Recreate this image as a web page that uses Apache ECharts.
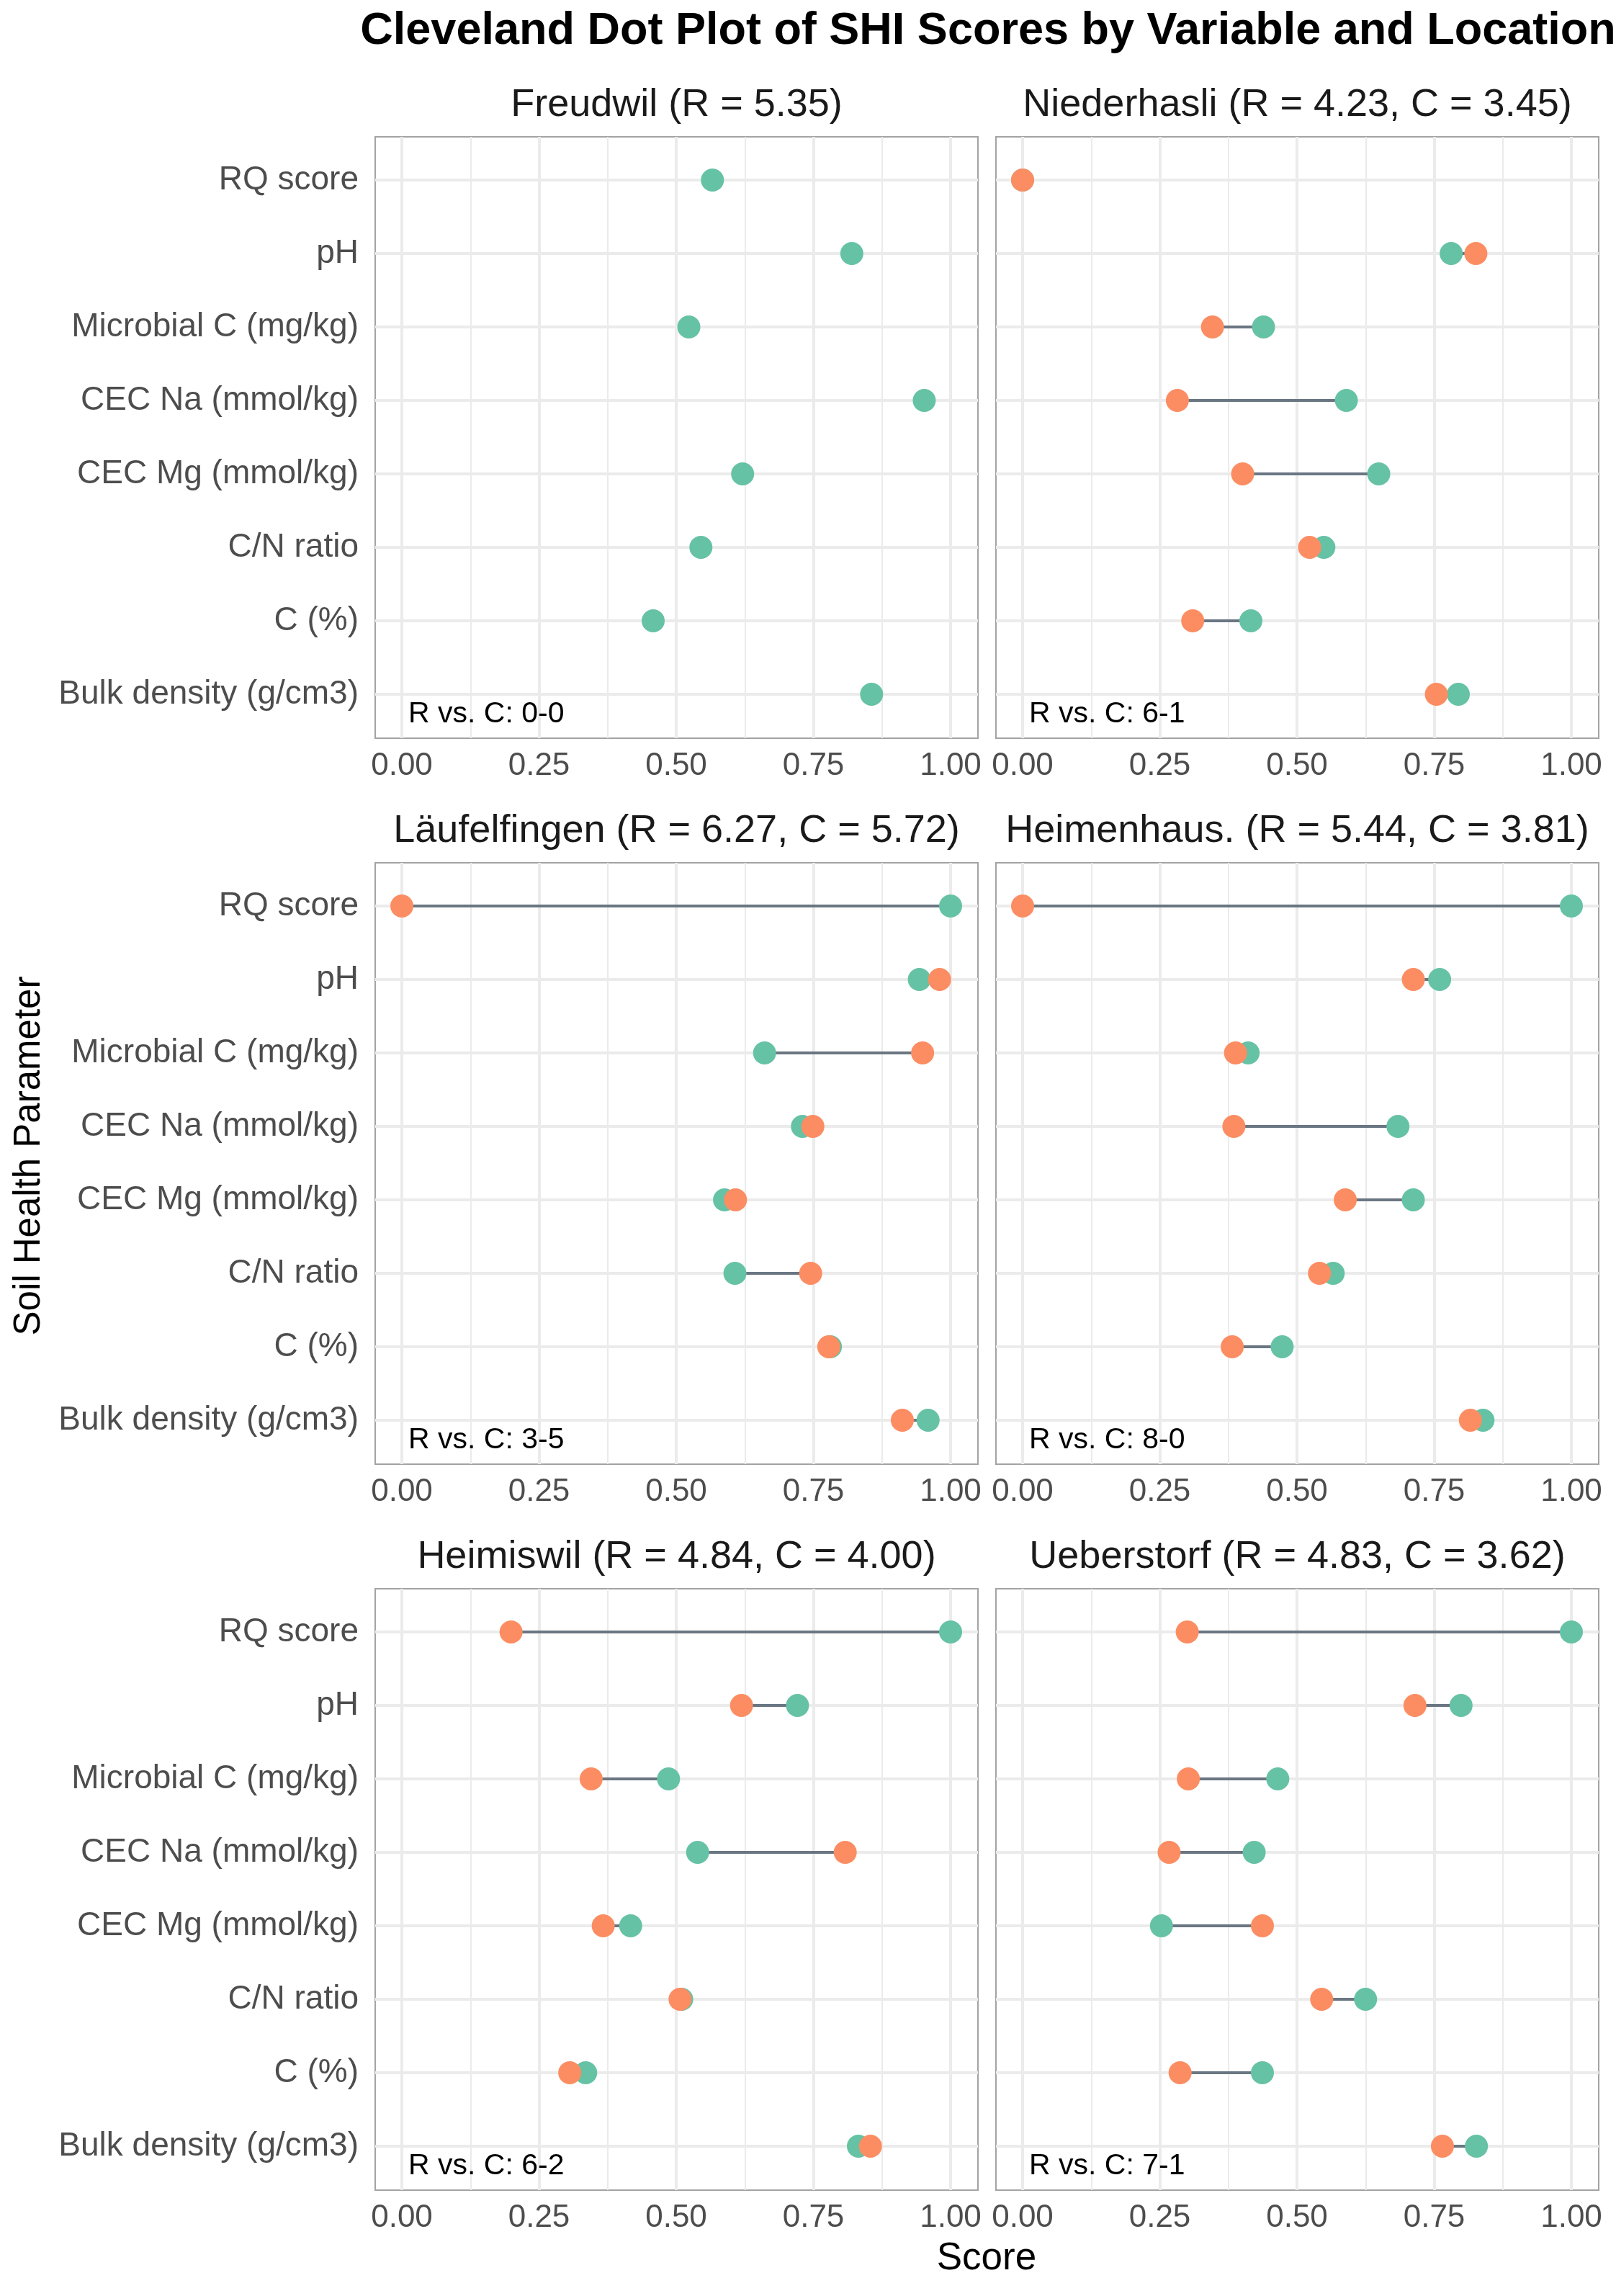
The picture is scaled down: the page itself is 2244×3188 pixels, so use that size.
<!DOCTYPE html>
<html>
<head>
<meta charset="utf-8">
<script src="https://cdn.jsdelivr.net/npm/echarts@6/dist/echarts.min.js"></script>
<style>html,body{margin:0;padding:0;background:#fff;}#c{width:2244px;height:3188px;}</style>
</head>
<body>
<div id="c"></div>
<script>
const categories = ['RQ score','pH','Microbial C (mg/kg)','CEC Na (mmol/kg)','CEC Mg (mmol/kg)','C/N ratio','C (%)','Bulk density (g/cm3)'];
const locations = ['Freudwil','Niederhasli','Läufelfingen','Heimenhaus.','Heimiswil','Ueberstorf'];
const rTotals = ['5.35','4.23','6.27','5.44','4.84','4.83'];
const cTotals = [null,'3.45','5.72','3.81','4.00','3.62'];
const winLoss = ['0-0','6-1','3-5','8-0','6-2','7-1'];
const xTicks = [0, 0.25, 0.5, 0.75, 1];

const rFreudwil     = [0.566, 0.820, 0.523, 0.952, 0.621, 0.545, 0.458, 0.856];
const cFreudwil     = [null, null, null, null, null, null, null, null];
const rNiederhasli  = [0.000, 0.781, 0.439, 0.590, 0.649, 0.549, 0.416, 0.794];
const cNiederhasli  = [0.000, 0.826, 0.346, 0.282, 0.401, 0.523, 0.310, 0.754];
const rLaeufelfingen= [1.000, 0.943, 0.661, 0.730, 0.588, 0.607, 0.781, 0.959];
const cLaeufelfingen= [0.000, 0.980, 0.949, 0.749, 0.608, 0.745, 0.778, 0.912];
const rHeimenhaus   = [1.000, 0.760, 0.411, 0.684, 0.712, 0.566, 0.473, 0.839];
const cHeimenhaus   = [0.000, 0.712, 0.388, 0.385, 0.588, 0.541, 0.382, 0.816];
const rHeimiswil    = [1.000, 0.721, 0.486, 0.539, 0.417, 0.510, 0.335, 0.832];
const cHeimiswil    = [0.199, 0.619, 0.345, 0.808, 0.367, 0.507, 0.306, 0.854];
const rUeberstorf   = [1.000, 0.799, 0.465, 0.422, 0.253, 0.625, 0.437, 0.827];
const cUeberstorf   = [0.300, 0.715, 0.302, 0.267, 0.437, 0.545, 0.287, 0.765];

const rSeries = [rFreudwil, rNiederhasli, rLaeufelfingen, rHeimenhaus, rHeimiswil, rUeberstorf];
const cSeries = [cFreudwil, cNiederhasli, cLaeufelfingen, cHeimenhaus, cHeimiswil, cUeberstorf];

const FONT = "'Liberation Sans', Arial, Helvetica, sans-serif";
const GREEN = '#66C2A5', ORANGE = '#FC8D62', SEG = '#6A7682', GRID = '#EBEBEB';

const panelLefts = [521, 1383];
const panelTops = [190, 1198, 2206];
const PW = 837, PH = 835, XOFF = 37, XW = 762, YOFF = 60, YH = 714;

const grids = [], xAxes = [], yAxes = [], series = [], graphics = [];

locations.forEach((loc, p) => {
  const col = p % 2, row = Math.floor(p / 2);
  const L = panelLefts[col], T = panelTops[row];
  const base = grids.length;
  // border grid
  grids.push({left: L, top: T, width: PW, height: PH, show: true, borderColor: '#A3A3A3', borderWidth: 2, backgroundColor: 'transparent', containLabel: false});
  xAxes.push({gridIndex: base, type: 'value', min: 0, max: 1, show: false});
  yAxes.push({gridIndex: base, type: 'value', min: 0, max: 1, show: false});
  // horizontal gridlines + y labels
  grids.push({left: L, top: T + YOFF, width: PW, height: YH, containLabel: false});
  xAxes.push({gridIndex: base + 1, type: 'value', min: 0, max: 1, show: false});
  yAxes.push({gridIndex: base + 1, type: 'category', data: categories, inverse: true, boundaryGap: false,
    axisLine: {show: false}, axisTick: {show: false},
    axisLabel: {show: col === 0, interval: 0, margin: 23, fontSize: 46, color: '#4D4D4D', fontFamily: FONT},
    splitLine: {show: true, interval: 0, lineStyle: {color: GRID, width: 4}}});
  // vertical gridlines + x labels
  grids.push({left: L + XOFF, top: T, width: XW, height: PH, containLabel: false});
  xAxes.push({gridIndex: base + 2, type: 'value', min: 0, max: 1, interval: 0.25,
    axisLine: {show: false}, axisTick: {show: false},
    axisLabel: {show: true, margin: 17, fontSize: 44, color: '#4D4D4D', fontFamily: FONT, showMinLabel: true, showMaxLabel: true,
      formatter: v => Number(v).toFixed(2)},
    splitLine: {show: true, showMinLine: true, showMaxLine: true, lineStyle: {color: GRID, width: 4}},
    minorTick: {show: false, splitNumber: 2},
    minorSplitLine: {show: true, lineStyle: {color: GRID, width: 2}}});
  yAxes.push({gridIndex: base + 2, type: 'value', min: 0, max: 1, show: false});
  // data grid
  grids.push({left: L + XOFF, top: T + YOFF, width: XW, height: YH, containLabel: false});
  xAxes.push({gridIndex: base + 3, type: 'value', min: 0, max: 1, show: false});
  yAxes.push({gridIndex: base + 3, type: 'category', data: categories, inverse: true, boundaryGap: false, show: false});

  const rv = rSeries[p], cv = cSeries[p];
  const segData = [], rData = [], cData = [];
  categories.forEach((cat, i) => {
    if (rv[i] != null && cv[i] != null) segData.push([rv[i], cv[i], i]);
    if (rv[i] != null) rData.push([rv[i], i]);
    if (cv[i] != null) cData.push([cv[i], i]);
  });
  const di = base + 3;
  series.push({type: 'custom', xAxisIndex: di, yAxisIndex: di, z: 3, clip: false,
    encode: {x: [0, 1], y: 2},
    renderItem: (params, api) => {
      const p1 = api.coord([api.value(0), api.value(2)]);
      const p2 = api.coord([api.value(1), api.value(2)]);
      return {type: 'line', shape: {x1: p1[0], y1: p1[1], x2: p2[0], y2: p2[1]}, style: {stroke: SEG, lineWidth: 4}};
    },
    data: segData, silent: true});
  series.push({type: 'scatter', xAxisIndex: di, yAxisIndex: di, z: 4, clip: false, symbol: 'circle', symbolSize: 32,
    itemStyle: {color: GREEN, opacity: 1}, data: rData, silent: true});
  series.push({type: 'scatter', xAxisIndex: di, yAxisIndex: di, z: 5, clip: false, symbol: 'circle', symbolSize: 32,
    itemStyle: {color: ORANGE, opacity: 1}, data: cData, silent: true});

  const title = loc + ' (R = ' + rTotals[p] + (cTotals[p] ? ', C = ' + cTotals[p] : '') + ')';
  graphics.push({type: 'text', x: L + PW / 2, y: T - 44, style: {text: title, fontSize: 54, fontFamily: FONT, fill: '#1A1A1A', align: 'center', verticalAlign: 'middle'}});
  graphics.push({type: 'text', x: L + XOFF + 9, y: T + PH - 33, style: {text: 'R vs. C: ' + winLoss[p], fontSize: 41, fontFamily: FONT, fill: '#000000', align: 'left', verticalAlign: 'middle'}, z: 10});
});

graphics.push({type: 'text', x: 1372, y: 44, style: {text: 'Cleveland Dot Plot of SHI Scores by Variable and Location', fontSize: 63, fontWeight: 'bold', fontFamily: FONT, fill: '#000000', align: 'center', verticalAlign: 'middle'}});
graphics.push({type: 'text', x: 1370, y: 3136, style: {text: 'Score', fontSize: 53, fontFamily: FONT, fill: '#000000', align: 'center', verticalAlign: 'middle'}});
graphics.push({type: 'text', x: 41, y: 1605, rotation: Math.PI / 2, style: {text: 'Soil Health Parameter', fontSize: 51, fontFamily: FONT, fill: '#000000', align: 'center', verticalAlign: 'middle'}});

const chart = echarts.init(document.getElementById('c'), null, {renderer: 'canvas'});
chart.setOption({
  animation: false,
  backgroundColor: '#ffffff',
  textStyle: {fontFamily: FONT},
  grid: grids, xAxis: xAxes, yAxis: yAxes, series: series, graphic: graphics
});
</script>
</body>
</html>
